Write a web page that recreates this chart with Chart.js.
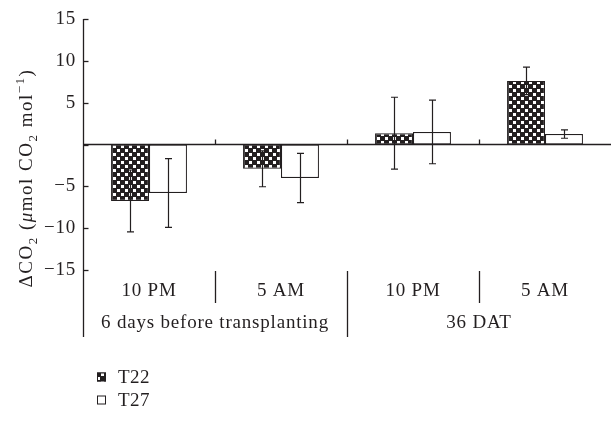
<!DOCTYPE html>
<html><head><meta charset="utf-8">
<script src="https://cdn.jsdelivr.net/npm/chart.js@4/dist/chart.umd.min.js"></script>
<style>html,body{margin:0;padding:0;background:#fff}canvas{display:block}</style>
</head><body>
<canvas id="c" width="611" height="422"></canvas>
<script>
const timeLabels = ['10 PM', '5 AM', '10 PM', '5 AM'];
const groupLabels = ['6 days before transplanting', '36 DAT'];
const groupSpans = [2, 2];
const seriesNames = ['T22', 'T27'];
const t22Values = [-6.75, -2.9, 1.35, 7.6];
const t22Errors = [3.7, 2.15, 4.3, 1.65];
const t27Values = [-5.8, -4.0, 1.5, 1.25];
const t27Errors = [4.1, 2.95, 3.8, 0.5];
const yMin = -15, yMax = 15, yStep = 5;

const INK = '#231f20';
const FONT = '"Liberation Serif", "Times New Roman", serif';
const FS = 19;

function makePattern() {
  const p = document.createElement('canvas');
  p.width = 8; p.height = 8;
  const g = p.getContext('2d');
  g.fillStyle = INK; g.fillRect(0, 0, 8, 8);
  g.fillStyle = '#fff';
  g.fillRect(1, 1, 3, 3);
  g.fillRect(5, 5, 3, 3);
  return document.getElementById('c').getContext('2d').createPattern(p, 'repeat');
}
const pattern = makePattern();
const errorsBySeries = [t22Errors, t27Errors];

const spacingPlugin = {
  id: 'spacing',
  beforeDraw(chart) { chart.ctx.letterSpacing = '0.8px'; }
};

const decorPlugin = {
  id: 'decor',
  afterDatasetsDraw(chart) {
    const ctx = chart.ctx;
    const ca = chart.chartArea;
    const ys = chart.scales.y, xs = chart.scales.x;
    const y0 = ys.getPixelForValue(0);
    ctx.save();
    ctx.strokeStyle = INK;
    ctx.lineWidth = 1.2;
    // error bars
    chart.data.datasets.forEach((ds, di) => {
      const meta = chart.getDatasetMeta(di);
      meta.data.forEach((bar, i) => {
        const v = ds.data[i], e = errorsBySeries[di][i];
        const x = Math.round(bar.x) + 0.5;
        const yt = ys.getPixelForValue(v + e), yb = ys.getPixelForValue(v - e);
        ctx.beginPath();
        ctx.moveTo(x, yt); ctx.lineTo(x, yb);
        ctx.moveTo(x - 3.5, yt); ctx.lineTo(x + 3.5, yt);
        ctx.moveTo(x - 3.5, yb); ctx.lineTo(x + 3.5, yb);
        ctx.stroke();
      });
    });
    ctx.lineWidth = 1.3;
    // zero line
    ctx.beginPath();
    ctx.moveTo(ca.left, y0); ctx.lineTo(chart.width, y0); ctx.stroke();
    // y axis line extended
    const axX = Math.round(ca.left) + 0.5;
    ctx.beginPath();
    ctx.moveTo(axX, ys.getPixelForValue(yMax)); ctx.lineTo(axX, ca.bottom + 67); ctx.stroke();
    // inner y ticks
    for (let v = yMin; v <= yMax; v += yStep) {
      const py = Math.round(ys.getPixelForValue(v)) + 0.5;
      ctx.beginPath(); ctx.moveTo(axX, py); ctx.lineTo(axX + 5, py); ctx.stroke();
    }
    // category boundaries
    let cum = 0; const groupEnds = new Set();
    groupSpans.forEach(s => { cum += s; groupEnds.add(cum); });
    for (let i = 1; i < timeLabels.length; i++) {
      const bx = Math.round((xs.getPixelForValue(i - 1) + xs.getPixelForValue(i)) / 2) + 0.5;
      ctx.beginPath(); ctx.moveTo(bx, y0); ctx.lineTo(bx, y0 - 5); ctx.stroke();
      const bottom = groupEnds.has(i) ? ca.bottom + 67 : ca.bottom + 33;
      ctx.beginPath(); ctx.moveTo(bx, ca.bottom + 1); ctx.lineTo(bx, bottom); ctx.stroke();
    }
    // group labels
    ctx.fillStyle = INK;
    ctx.font = FS + 'px ' + FONT;
    ctx.letterSpacing = '0.8px';
    ctx.textAlign = 'center'; ctx.textBaseline = 'middle';
    let start = 0;
    groupLabels.forEach((lab, gi) => {
      const endIdx = start + groupSpans[gi] - 1;
      const half = (xs.getPixelForValue(1) - xs.getPixelForValue(0)) / 2;
      const cx = (xs.getPixelForValue(start) - half + xs.getPixelForValue(endIdx) + half) / 2;
      ctx.fillText(lab, cx, ca.bottom + 53);
      start += groupSpans[gi];
    });
    // y title with sub/superscripts
    ctx.letterSpacing = '1.5px';
    const segs = [
      {t: 'ΔCO', s: FS, o: 0},
      {t: '2', s: 13, o: 5},
      {t: ' (', s: FS, o: 0},
      {t: 'μ', s: FS, o: 0, it: true},
      {t: 'mol CO', s: FS, o: 0},
      {t: '2', s: 13, o: 5},
      {t: ' mol', s: FS, o: 0},
      {t: '−1', s: 13, o: -8},
      {t: ')', s: FS, o: 0}
    ];
    const fontOf = sg => (sg.it ? 'italic ' : '') + sg.s + 'px ' + FONT;
    let total = 0;
    segs.forEach(sg => { ctx.font = fontOf(sg); sg.w = ctx.measureText(sg.t).width; total += sg.w; });
    ctx.translate(32, 178);
    ctx.rotate(-Math.PI / 2);
    ctx.textAlign = 'left'; ctx.textBaseline = 'alphabetic';
    let px = -total / 2;
    segs.forEach(sg => { ctx.font = fontOf(sg); ctx.fillText(sg.t, px, sg.o); px += sg.w; });
    ctx.setTransform(1, 0, 0, 1, 0, 0);
    // legend
    ctx.letterSpacing = '0.5px';
    ctx.font = FS + 'px ' + FONT;
    ctx.textAlign = 'left'; ctx.textBaseline = 'middle';
    ctx.lineWidth = 1;
    chart.data.datasets.forEach((ds, di) => {
      const cy = 377 + di * 23;
      ctx.fillStyle = ds.backgroundColor;
      ctx.fillRect(97, cy - 4.5, 9, 9);
      ctx.strokeStyle = INK;
      ctx.strokeRect(97.5, cy - 4, 8, 8);
      ctx.fillStyle = INK;
      ctx.fillText(ds.label, 118, cy + 1);
    });
    ctx.restore();
  }
};

new Chart(document.getElementById('c'), {
  type: 'bar',
  data: {
    labels: timeLabels,
    datasets: [
      {label: seriesNames[0], data: t22Values, backgroundColor: pattern, borderColor: INK, borderWidth: 1.2, borderSkipped: false},
      {label: seriesNames[1], data: t27Values, backgroundColor: '#ffffff', borderColor: INK, borderWidth: 1.2, borderSkipped: false}
    ]
  },
  options: {
    responsive: false,
    devicePixelRatio: 1,
    animation: false,
    layout: {padding: {top: 19, right: 0, left: 0, bottom: 0}},
    datasets: {bar: {categoryPercentage: 0.575, barPercentage: 1.0}},
    plugins: {legend: {display: false}, tooltip: {enabled: false}},
    scales: {
      x: {
        grid: {display: false},
        border: {display: false},
        ticks: {color: INK, font: {family: FONT, size: FS}, padding: 2, maxRotation: 0, autoSkip: false},
        afterFit: s => { s.height = 152; }
      },
      y: {
        min: yMin, max: yMax,
        grid: {display: false, drawTicks: false, tickLength: 0},
        border: {display: false},
        ticks: {
          stepSize: yStep, color: INK, padding: 7,
          font: {family: FONT, size: FS},
          callback: v => v === 0 ? '' : (v < 0 ? '−' + Math.abs(v) : String(v))
        },
        afterFit: s => { s.width = 83; }
      }
    }
  },
  plugins: [spacingPlugin, decorPlugin]
});
</script>
</body></html>
